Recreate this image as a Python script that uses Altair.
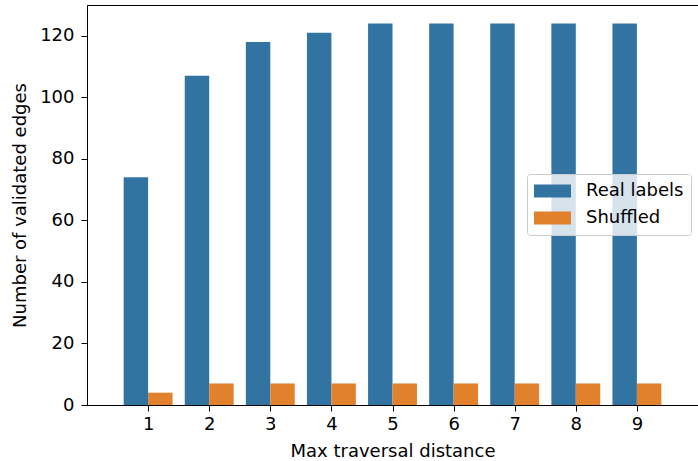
import altair as alt
import pandas as pd

# Validated edges per max traversal distance, real vs shuffled labels
distances = [1, 2, 3, 4, 5, 6, 7, 8, 9]
real_labels = [74, 107, 118, 121, 124, 124, 124, 124, 124]
shuffled = [4, 7, 7, 7, 7, 7, 7, 7, 7]
series_names = ["Real labels", "Shuffled"]
series_colors = ["#3274a1", "#e1812c"]
y_ticks = [0, 20, 40, 60, 80, 100, 120]

BAR_W = 0.4
FONT = "DejaVu Sans"
FS = 18

rows = []
for d, r, s in zip(distances, real_labels, shuffled):
    rows.append({"distance": d, "edges": r, "series": series_names[0], "slot": 0})
    rows.append({"distance": d, "edges": s, "series": series_names[1], "slot": 1})
df = pd.DataFrame(rows)

bars = (
    alt.Chart(df)
    .transform_calculate(
        x0=f"datum.distance - {BAR_W} + datum.slot * {BAR_W}",
        x1=f"datum.distance + datum.slot * {BAR_W}",
        base="0",
    )
    .mark_bar(stroke=None)
    .encode(
        x=alt.X(
            "x0:Q",
            scale=alt.Scale(domain=[0, 10], nice=False, zero=False),
            axis=alt.Axis(values=distances, title="Max traversal distance", format="d"),
        ),
        x2="x1:Q",
        y=alt.Y(
            "edges:Q",
            scale=alt.Scale(domain=[0, 130], nice=False),
            axis=alt.Axis(values=y_ticks, title="Number of validated edges"),
        ),
        y2="base:Q",
        color=alt.Color(
            "series:N",
            scale=alt.Scale(domain=series_names, range=series_colors),
            legend=alt.Legend(
                title=None,
                orient="none",
                legendX=440,
                legendY=169,
                fillColor="rgba(255,255,255,0.8)",
                strokeColor="#cccccc",
                cornerRadius=3,
                padding=7,
                labelFont=FONT,
                labelFontSize=FS,
                labelColor="#000000",
                labelOffset=15,
                symbolType="M-1,-0.35L1,-0.35L1,0.35L-1,0.35Z",
                symbolSize=1369,
                symbolStrokeWidth=0,
                symbolOpacity=1,
                clipHeight=20,
                rowPadding=7,
            ),
        ),
    )
)

chart = (
    bars.properties(
        width=611,
        height=400,
        autosize=alt.AutoSizeParams(type="none"),
        padding={"left": 87, "top": 5, "right": 0, "bottom": 56},
    )
    .configure_view(stroke="#000000", strokeWidth=1)
    .configure_axis(
        grid=False,
        domainColor="#000000",
        domainWidth=1,
        tickColor="#000000",
        tickSize=6,
        tickWidth=1,
        labelFont=FONT,
        labelFontSize=FS,
        labelColor="#000000",
        titleFont=FONT,
        titleFontSize=FS,
        titleFontWeight="normal",
        titleColor="#000000",
    )
    .configure_axisX(labelPadding=4, titlePadding=9, labelAngle=0)
    .configure_axisY(labelPadding=7, titlePadding=10)
)

chart.save("out.html", embed_options={"renderer": "svg", "actions": False})
